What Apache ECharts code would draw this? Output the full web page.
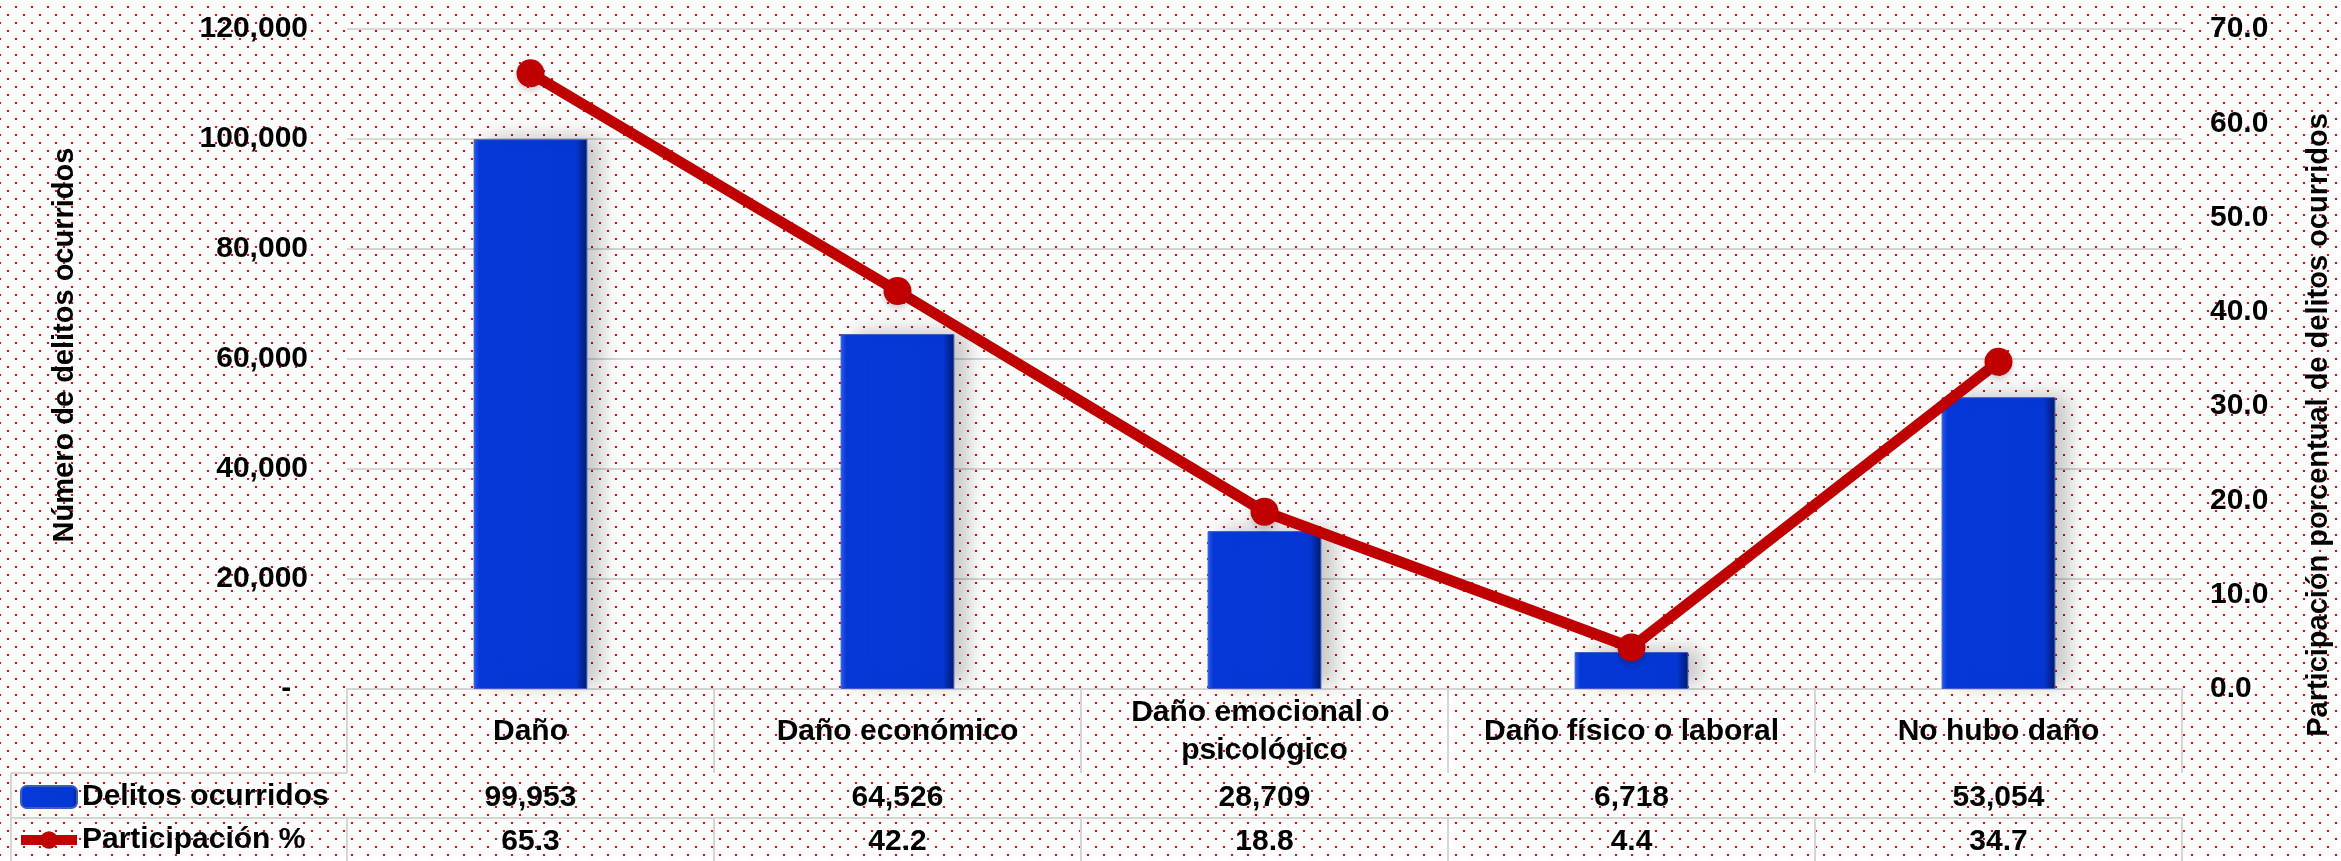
<!doctype html>
<html lang="es">
<head>
<meta charset="utf-8">
<title>Delitos ocurridos por tipo de daño</title>
<script src="https://cdn.jsdelivr.net/npm/echarts@6/dist/echarts.min.js"></script>
<style>
  html, body { margin: 0; padding: 0; background: #fff; }
  #main { width: 2341px; height: 861px; }
</style>
</head>
<body>
<div id="main"></div>
<script>
    // datos
    var categorias = ['Daño', 'Daño económico', 'Daño emocional o psicológico', 'Daño físico o laboral', 'No hubo daño'];
    var delitos = [99953, 64526, 28709, 6718, 53054];
    var participacion = [65.3, 42.2, 18.8, 4.4, 34.7];
    var ticksIzq = [0, 20000, 40000, 60000, 80000, 100000, 120000];
    var ticksDer = [0, 10, 20, 30, 40, 50, 60, 70];

    var fuente = 'Arial, "Liberation Sans", sans-serif';
    var gris = '#d6d6d6';

    function miles(v) {
        return String(v).replace(/\B(?=(\d{3})+(?!\d))/g, ',');
    }

    // fondo punteado rojo
    var patron = document.createElement('canvas');
    patron.width = 16;
    patron.height = 16;
    var ctx = patron.getContext('2d');
    ctx.fillStyle = '#fff';
    ctx.fillRect(0, 0, 16, 16);
    ctx.fillStyle = '#ff0000';
    ctx.fillRect(15, 6, 2, 2);
    ctx.fillRect(0, 6, 1, 2);
    ctx.fillRect(7, 14, 2, 2);

    var ejeTabla = function (offset, tickLen, margen, formato) {
        return {
            type: 'category',
            position: 'bottom',
            offset: offset,
            data: categorias,
            axisLine: { show: true, lineStyle: { color: gris, width: 2 } },
            axisTick: { show: true, interval: 0, length: tickLen, lineStyle: { color: gris, width: 2 } },
            axisLabel: {
                interval: 0,
                margin: margen,
                verticalAlign: 'middle',
                color: '#000',
                fontFamily: fuente,
                fontWeight: 'bold',
                fontSize: 30,
                lineHeight: 38,
                width: 340,
                overflow: 'break',
                formatter: formato
            }
        };
    };

    var chart = echarts.init(document.getElementById('main'));
    chart.setOption({
        backgroundColor: { image: patron, repeat: 'repeat' },
        animation: false,
        grid: { left: 347, right: 154, top: 29, bottom: 172 },
        legend: {
            orient: 'vertical',
            left: 16,
            top: 782,
            padding: 0,
            itemWidth: 56,
            itemHeight: 22,
            itemGap: 13,
            textStyle: { color: '#000', fontFamily: fuente, fontWeight: 'bold', fontSize: 30, lineHeight: 30 },
            data: [
                { name: 'Delitos ocurridos' },
                { name: 'Participación %', lineStyle: { width: 10, color: '#c00000' } }
            ]
        },
        xAxis: [
            ejeTabla(0, 84, 43, function (v) { return v; }),
            ejeTabla(84, 45, 25, function (v, i) { return miles(delitos[i]); }),
            ejeTabla(129, 45, 24, function (v, i) { return participacion[i].toFixed(1); })
        ],
        yAxis: [{
            type: 'value',
            min: ticksIzq[0],
            max: ticksIzq[ticksIzq.length - 1],
            interval: ticksIzq[1] - ticksIzq[0],
            name: 'Número de delitos ocurridos',
            nameLocation: 'middle',
            nameRotate: 90,
            nameGap: 268,
            nameTextStyle: { color: '#000', fontFamily: fuente, fontWeight: 'bold', fontSize: 29, padding: [0, 0, 0, 28] },
            axisLine: { show: false },
            axisTick: { show: false },
            axisLabel: {
                margin: 39,
                color: '#000',
                fontFamily: fuente,
                fontWeight: 'bold',
                fontSize: 30,
                formatter: function (v) { return v === 0 ? '-  ' : miles(v); }
            },
            splitLine: { lineStyle: { color: gris, width: 2 } }
        }, {
            type: 'value',
            min: ticksDer[0],
            max: ticksDer[ticksDer.length - 1],
            interval: ticksDer[1] - ticksDer[0],
            name: 'Participación porcentual de delitos ocurridos',
            nameLocation: 'middle',
            nameRotate: 90,
            nameGap: 122,
            nameTextStyle: { color: '#000', fontFamily: fuente, fontWeight: 'bold', fontSize: 29, padding: [0, 132, 0, 0] },
            axisLine: { show: false },
            axisTick: { show: false },
            axisLabel: {
                margin: 28,
                color: '#000',
                fontFamily: fuente,
                fontWeight: 'bold',
                fontSize: 30,
                formatter: function (v) { return v.toFixed(1); }
            },
            splitLine: { show: false }
        }],
        graphic: [
            // bordes de la columna de leyenda de la tabla
            { type: 'line', shape: { x1: 11, y1: 773, x2: 347, y2: 773 }, style: { stroke: gris, lineWidth: 2 } },
            { type: 'line', shape: { x1: 11, y1: 818, x2: 347, y2: 818 }, style: { stroke: gris, lineWidth: 2 } },
            { type: 'line', shape: { x1: 11, y1: 773, x2: 11, y2: 861 }, style: { stroke: gris, lineWidth: 2 } }
        ],
        series: [{
            name: 'Delitos ocurridos',
            type: 'bar',
            barWidth: '31%',
            data: delitos,
            itemStyle: {
                color: {
                    type: 'linear', x: 0, y: 0, x2: 1, y2: 0,
                    colorStops: [
                        { offset: 0, color: '#2c5cf2' },
                        { offset: 0.05, color: '#0639d8' },
                        { offset: 0.9, color: '#0537d4' },
                        { offset: 1, color: '#011a6a' }
                    ]
                },
                borderColor: '#3c5cc4',
                borderWidth: 1,
                shadowColor: 'rgba(0,0,0,0.22)',
                shadowBlur: 20,
                shadowOffsetX: 14,
                shadowOffsetY: -4
            }
        }, {
            name: 'Participación %',
            type: 'line',
            yAxisIndex: 1,
            data: participacion,
            symbol: 'circle',
            symbolSize: 28,
            z: 5,
            lineStyle: { color: '#c00000', width: 11 },
            itemStyle: {
                color: '#c00000',
                shadowColor: 'rgba(0,0,0,0.18)',
                shadowBlur: 6,
                shadowOffsetY: 4
            }
        }]
    });
</script>
</body>
</html>
